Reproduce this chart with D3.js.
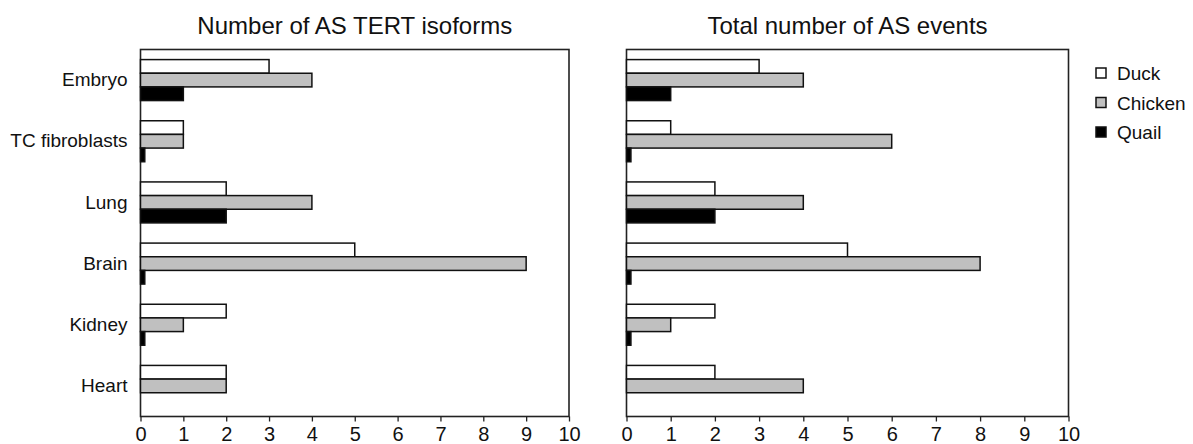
<!DOCTYPE html>
<html><head><meta charset="utf-8">
<script src="https://cdn.jsdelivr.net/npm/d3@7"></script>
<style>body{margin:0;background:#fff;} svg{display:block;font-family:"Liberation Sans",Arial,sans-serif;}</style>
</head><body>
<script>
const categories = ["Embryo","TC fibroblasts","Lung","Brain","Kidney","Heart"];
const seriesNames = ["Duck","Chicken","Quail"];
const isoDuck    = [3,1,2,5,2,2];
const isoChicken = [4,1,4,9,1,2];
const isoQuail   = [1,0.1,2,0.1,0.1,0];
const evtDuck    = [3,1,2,5,2,2];
const evtChicken = [4,6,4,8,1,4];
const evtQuail   = [1,0.1,2,0.1,0.1,0];
const xTicks = [0,1,2,3,4,5,6,7,8,9,10];
const titles = ["Number of AS TERT isoforms","Total number of AS events"];
const colors = ["#ffffff","#c0c0c0","#000000"];

(function(){
const W=1193,H=444;
const svg=d3.select("body").append("svg").attr("width",W).attr("height",H);
const plotTop=49.5,plotBottom=416.5;
const panels=[{x0:140.5,x1:569,data:[isoDuck,isoChicken,isoQuail],title:titles[0],labels:true},
              {x0:626.5,x1:1068.5,data:[evtDuck,evtChicken,evtQuail],title:titles[1],labels:false}];
const y=d3.scaleBand().domain(categories).range([plotTop,plotBottom]).paddingInner(0.33).paddingOuter(0.165);
const ys=d3.scaleBand().domain(seriesNames).range([0,y.bandwidth()]).padding(0);

panels.forEach(p=>{
  const x=d3.scaleLinear().domain([0,10]).range([p.x0,p.x1]);
  const g=svg.append("g");
  g.append("rect").attr("x",p.x0).attr("y",plotTop).attr("width",p.x1-p.x0).attr("height",plotBottom-plotTop)
    .attr("fill","none").attr("stroke","#222").attr("stroke-width",1.6);
  seriesNames.forEach((s,si)=>{
    g.selectAll(null).data(categories.map((c,i)=>({c,v:p.data[si][i]})).filter(d=>d.v>0)).join("rect")
      .attr("x",x(0)).attr("y",d=>y(d.c)+ys(s)).attr("width",d=>x(d.v)-x(0)).attr("height",ys.bandwidth())
      .attr("fill",colors[si]).attr("stroke","#111").attr("stroke-width",1.5);
  });
  const ax=g.append("g").attr("transform",`translate(0,${plotBottom})`)
    .call(d3.axisBottom(x).tickValues(xTicks).tickSize(5).tickPadding(5).tickFormat(d3.format("d")));
  ax.select(".domain").remove();
  ax.selectAll("line").attr("stroke","#222").attr("stroke-width",1.3);
  ax.selectAll("text").attr("font-size",20).attr("fill","#111").attr("font-family","Liberation Sans, Arial, sans-serif");
  svg.append("text").attr("x",(p.x0+p.x1)/2).attr("y",34).attr("text-anchor","middle")
    .attr("font-size",24).attr("fill","#111").text(p.title);
  if(p.labels){
    const ay=g.append("g").attr("transform",`translate(${p.x0},0)`).call(d3.axisLeft(y).tickSize(0).tickPadding(13));
    ay.select(".domain").remove();
    ay.selectAll("text").attr("font-size",19).attr("fill","#111").attr("font-family","Liberation Sans, Arial, sans-serif");
  }
});

const leg=svg.append("g");
seriesNames.forEach((s,i)=>{
  const cy=73+i*29.5;
  leg.append("rect").attr("x",1096).attr("y",cy-5).attr("width",10).attr("height",10)
    .attr("fill",colors[i]).attr("stroke","#111").attr("stroke-width",1.5);
  leg.append("text").attr("x",1117).attr("y",cy+7).attr("font-size",19).attr("fill","#111").text(s);
});
})();
</script>
</body></html>
